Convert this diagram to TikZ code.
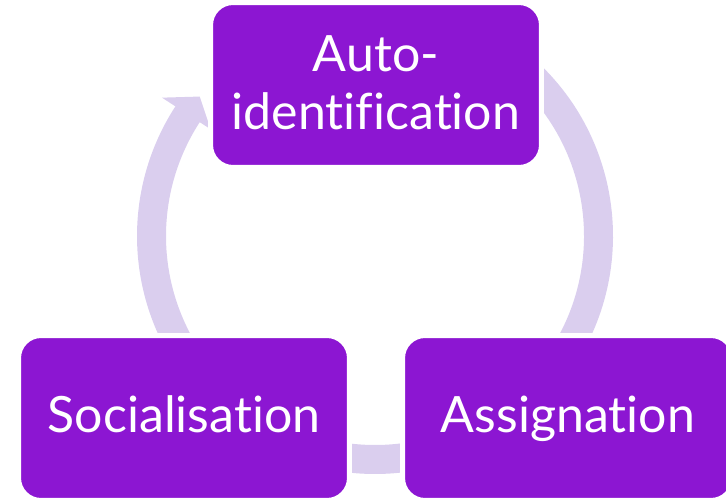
\documentclass[tikz,border=0pt]{standalone}
\usepackage{fontspec}
\setmainfont{Lato}[Ligatures={NoCommon,NoRare}]
\definecolor{boxpurple}{RGB}{140,22,210}
\definecolor{arrowlav}{RGB}{218,206,238}
\begin{document}
\begin{tikzpicture}[x=0.02cm,y=-0.02cm,
  box/.style={rounded corners=0.45cm, fill=boxpurple, draw=white, line width=0.1cm,
    minimum width=6.62cm, minimum height=3.3cm, inner sep=0pt, text=white,
    font=\fontsize{28.5}{33}\selectfont},
  band/.style={draw=arrowlav, line width=0.58cm},
  head/.style={fill=arrowlav}]
\useasboundingbox (0,0) rectangle (726,499);
\coordinate (c) at (375,236);
% cycle arrows (partly hidden under the boxes)
\draw[band] (c) ++(-50:223.5) arc[start angle=-50,end angle=40,radius=223.5];
\draw[band] (c) ++(60:223.5) arc[start angle=60,end angle=120,radius=223.5];
\draw[band] (c) ++(145:223.5) arc[start angle=145,end angle=213.5,radius=223.5];
\fill[head] ([shift={(213:254)}]c) -- ([shift={(218.5:224)}]c) -- ([shift={(213:196)}]c) -- cycle;
% boxes
\node[box, align=center, text depth=0.1cm] (auto) at (376,85) {Auto-\\identification};
\node[box, text height=0.7cm, text depth=0.1cm] (soc) at (184,418) {Socialisation};
\node[box, text height=0.7cm, text depth=0.1cm] (ass) at (568,418) {Assignation};
\end{tikzpicture}
\end{document}
